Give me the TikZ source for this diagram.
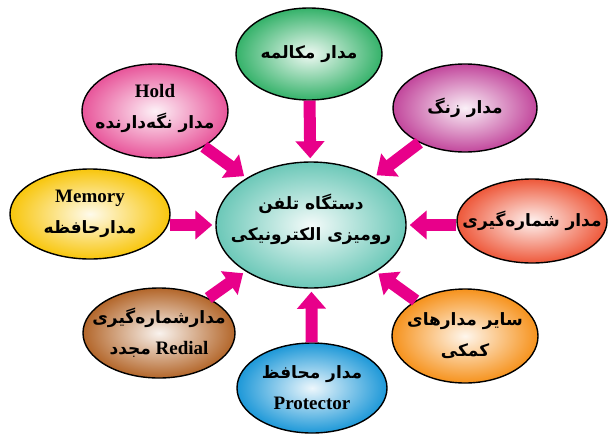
\documentclass[tikz,border=0pt]{standalone}
\usepackage{fontspec}
\setmainfont{Liberation Serif}
\newfontfamily\farsi[Script=Arabic]{DejaVu Sans}
\TeXXeTstate=1
\usetikzlibrary{shapes.geometric,arrows.meta}

\definecolor{devcol}{HTML}{6CC8B8}
\definecolor{talkcol}{HTML}{35B26A}
\definecolor{holdcol}{HTML}{E8559A}
\definecolor{ringcol}{HTML}{C2479C}
\definecolor{memcol}{HTML}{F8C60C}
\definecolor{dialcol}{HTML}{EE583A}
\definecolor{redialcol}{HTML}{B3662A}
\definecolor{auxcol}{HTML}{F6921C}
\definecolor{protcol}{HTML}{1D98D8}
\definecolor{arrcol}{HTML}{E8008A}

\newcommand{\fa}{\farsi\fontsize{17}{31}\selectfont}

\tikzset{
	part/.style={ellipse, draw=black, line width=1.4pt,
		inner color=#1!8, outer color=#1, inner sep=0pt},
	txt/.style={align=center, inner sep=0pt,
		font=\fontsize{19}{31}\selectfont\bfseries},
	feed/.style={line width=12pt, draw=arrcol,
		-{Triangle[length=17pt,width=28pt]}, shorten >=3pt}
}

\begin{document}
\begin{tikzpicture}[x=1pt,y=-1pt]
	\useasboundingbox (0,0) rectangle (609,436);

	\node[part=devcol, minimum width=190, minimum height=126,
		  label={[txt,yshift=6pt]center:{\fa\beginR دستگاه تلفن\endR}\\
		  {\fa\beginR رومیزی الکترونیکی\endR}}]
		  (dev) at (311,225) {};

	\node[part=talkcol, minimum width=146, minimum height=92,
		  label={[txt]center:{\fa\beginR مدار مکالمه\endR}}]
		  (talk) at (309,54) {};
	\node[part=holdcol, minimum width=146, minimum height=94,
		  label={[txt,yshift=3pt]center:Hold\\ {\fa\beginR مدار نگه‌دارنده\endR}}]
		  (hold) at (155,111) {};
	\node[part=ringcol, minimum width=144, minimum height=88,
		  label={[txt]center:{\fa\beginR مدار زنگ\endR}}]
		  (ring) at (465,108) {};
	\node[part=memcol, minimum width=160, minimum height=90,
		  label={[txt]center:Memory\\ {\fa\beginR مدارحافظه\endR}}]
		  (memory) at (90,214) {};
	\node[part=dialcol, minimum width=150, minimum height=84,
		  label={[txt]center:{\fa\beginR مدار شماره‌گیری\endR}}]
		  (dial) at (532,221) {};
	\node[part=redialcol, minimum width=152, minimum height=90,
		  label={[txt]center:{\fa\beginR مدارشماره‌گیری\endR}\\
		  {\fa\beginR مجدد\endR} Redial}]
		  (redial) at (159,333) {};
	\node[part=auxcol, minimum width=146, minimum height=94,
		  label={[txt]center:{\fa\beginR سایر مدارهای\endR}\\ {\fa\beginR کمکی\endR}}]
		  (aux) at (465,336) {};
	\node[part=protcol, minimum width=150, minimum height=90,
		  label={[txt]center:{\fa\beginR مدار محافظ\endR}\\ Protector}]
		  (protect) at (312,388) {};

	\draw[feed] (talk) -- (dev);
	\draw[feed] (hold) -- (dev);
	\draw[feed] (ring) -- (dev);
	\draw[feed] ([xshift=-1pt]memory.east |- dev) -- (dev.west);
	\draw[feed] (dial.west |- dev) -- (dev.east);
	\draw[feed] (redial) -- (dev);
	\draw[feed] (aux) -- (dev);
	\draw[feed] (protect) -- (dev);
\end{tikzpicture}
\end{document}
